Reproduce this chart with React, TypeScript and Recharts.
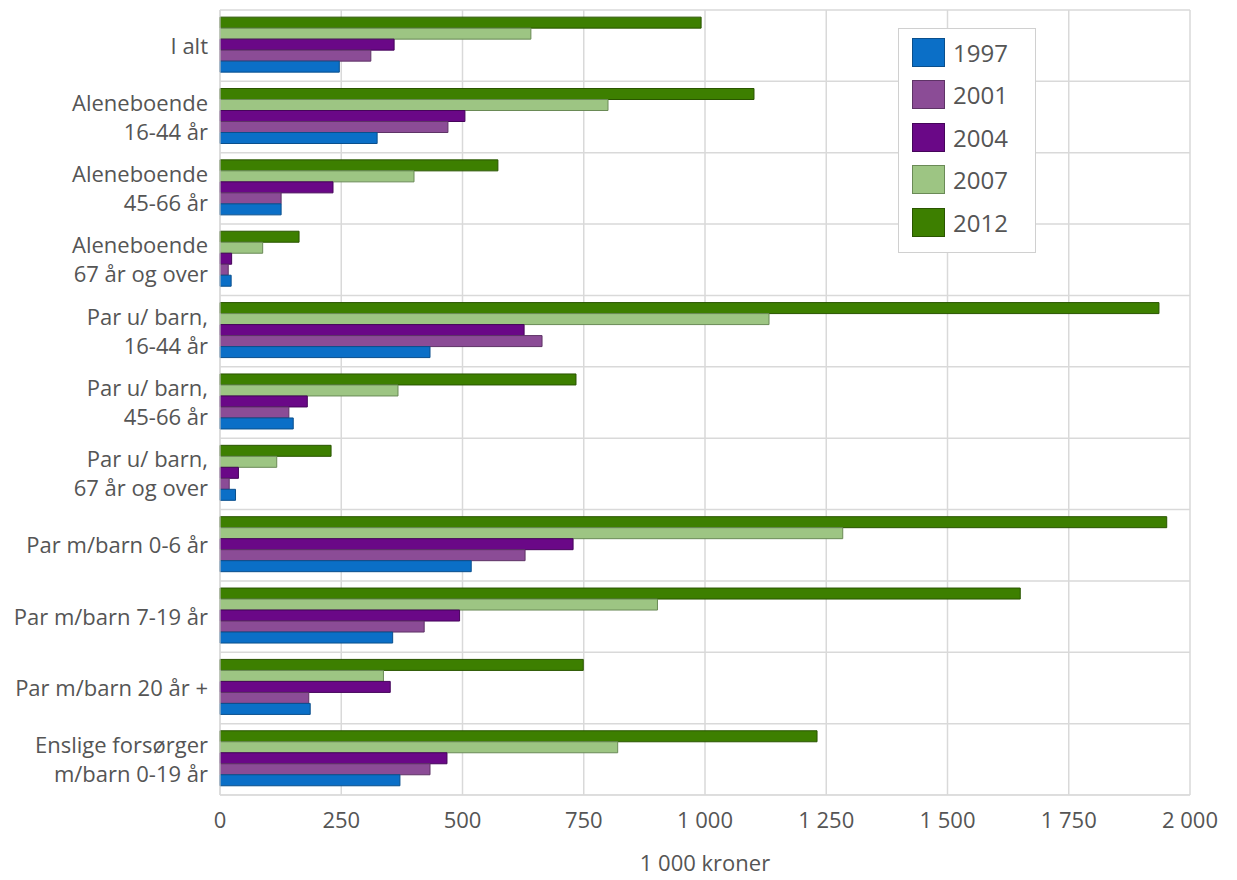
import { BarChart, Bar, XAxis, YAxis, CartesianGrid, Legend } from "recharts";

// household groups, top to bottom
const categories = [
  "I alt",
  "Aleneboende\n16-44 år",
  "Aleneboende\n45-66 år",
  "Aleneboende\n67 år og over",
  "Par u/ barn,\n16-44 år",
  "Par u/ barn,\n45-66 år",
  "Par u/ barn,\n67 år og over",
  "Par m/barn 0-6 år",
  "Par m/barn 7-19 år",
  "Par m/barn 20 år +",
  "Enslige forsørger\nm/barn 0-19 år",
];

// 1 000 kroner
const v1997 = [246, 324, 126, 23, 433, 151, 32, 518, 356, 186, 371];
const v2001 = [311, 470, 126, 17, 664, 142, 19, 629, 421, 183, 433];
const v2004 = [359, 505, 233, 24, 627, 180, 38, 728, 494, 351, 468];
const v2007 = [641, 800, 400, 88, 1132, 367, 117, 1284, 902, 337, 820];
const v2012 = [992, 1101, 573, 163, 1936, 734, 229, 1952, 1650, 749, 1231];

const xTicks = [0, 250, 500, 750, 1000, 1250, 1500, 1750, 2000];

const series = [
  { key: "y1997", name: "1997", values: v1997, fill: "#0b6fc7", stroke: "#0a4f8c" },
  { key: "y2001", name: "2001", values: v2001, fill: "#8b4c96", stroke: "#5e3366" },
  { key: "y2004", name: "2004", values: v2004, fill: "#6a0887", stroke: "#45055a" },
  { key: "y2007", name: "2007", values: v2007, fill: "#9dc583", stroke: "#6a8a56" },
  { key: "y2012", name: "2012", values: v2012, fill: "#3d7f00", stroke: "#2a5500" },
];

const data = categories.map((name, i) => {
  const row: any = { name };
  series.forEach((s) => (row[s.key] = s.values[i]));
  return row;
});

const W = 1237;
const H = 880;
const margin = { top: 10, right: 47, bottom: 5, left: 0 };
const xAxisHeight = 80;
const font = "'Open Sans', sans-serif";
const textColor = "#555";

const fmt = (v: number) => String(v).replace(/\B(?=(\d{3})+(?!\d))/g, " ");

function CategoryTick({ x, y, payload }: any) {
  const lines = String(payload.value).split("\n");
  const lh = 29;
  const first = -((lines.length - 1) / 2) * lh + 8;
  return (
    <text x={x} y={y} textAnchor="end" fill={textColor} fontSize={22} fontFamily={font}>
      {lines.map((l, i) => (
        <tspan key={i} x={x} dy={i === 0 ? first : lh}>
          {l}
        </tspan>
      ))}
    </text>
  );
}

function LegendBox() {
  return (
    <div
      style={{
        border: "1px solid #d0d0d0",
        background: "#fff",
        padding: "2px 14px 8px 13px",
        fontFamily: font,
        fontSize: 24,
        color: textColor,
      }}
    >
      {series.map((s) => (
        <div key={s.key} style={{ display: "flex", alignItems: "center", height: 42.5 }}>
          <div
            style={{
              width: 33,
              height: 29,
              background: s.fill,
              border: `1px solid ${s.stroke}`,
              boxSizing: "border-box",
              marginRight: 8,
            }}
          />
          <span>{s.name}</span>
        </div>
      ))}
    </div>
  );
}

// lines between the groups instead of through their centres
const bandLines = ({ offset }: any) => {
  const top = offset?.top ?? margin.top;
  const h = offset?.height ?? H - margin.top - margin.bottom - xAxisHeight;
  return categories.map((_, i) => top + (i * h) / categories.length).concat(top + h);
};

export default function App() {
  // 2012 drawn first so it sits on top in each group
  const drawOrder = [...series].reverse();
  return (
    <div style={{ position: "absolute", left: 0, top: 0, width: W, height: H, background: "#fff" }}>
      <BarChart
        width={W}
        height={H}
        data={data}
        layout="vertical"
        margin={margin}
        barCategoryGap="10%"
        barGap={0}
      >
        <CartesianGrid
          stroke="#d9d9d9"
          strokeWidth={1.5}
          horizontalCoordinatesGenerator={bandLines}
        />
        <XAxis
          type="number"
          domain={[0, 2000]}
          ticks={xTicks}
          tickFormatter={fmt}
          tickLine={false}
          tickSize={0}
          tickMargin={17}
          axisLine={{ stroke: "#d9d9d9" }}
          height={xAxisHeight}
          tick={{ fill: textColor, fontSize: 22, fontFamily: font }}
          label={{
            value: "1 000 kroner",
            position: "insideBottom",
            offset: 4,
            fill: textColor,
            fontSize: 22,
            fontFamily: font,
          }}
        />
        <YAxis
          type="category"
          dataKey="name"
          width={220}
          interval={0}
          tickLine={false}
          tickSize={0}
          tickMargin={12}
          axisLine={{ stroke: "#d9d9d9" }}
          tick={<CategoryTick />}
        />
        <Legend
          layout="vertical"
          align="center"
          verticalAlign="middle"
          wrapperStyle={{ top: 28, left: 898, width: 138 }}
          content={<LegendBox />}
        />
        {drawOrder.map((s) => (
          <Bar
            key={s.key}
            dataKey={s.key}
            name={s.name}
            fill={s.fill}
            stroke={s.stroke}
            strokeWidth={1}
            isAnimationActive={false}
          />
        ))}
      </BarChart>
    </div>
  );
}
